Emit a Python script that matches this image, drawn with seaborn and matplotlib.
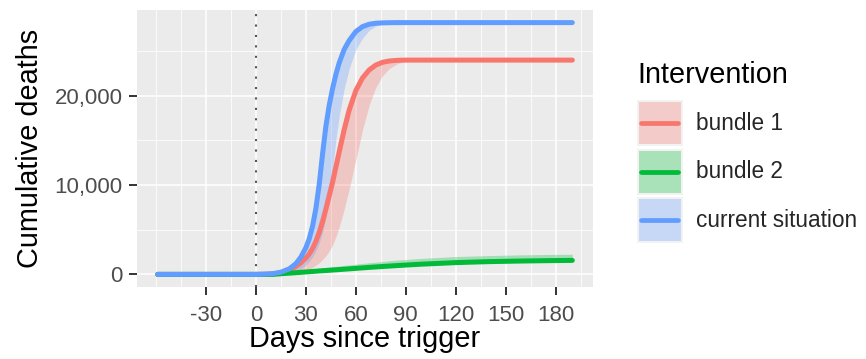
import matplotlib
matplotlib.use('Agg')
import matplotlib.pyplot as plt
from matplotlib.lines import Line2D
from matplotlib.patches import Rectangle
from matplotlib.legend_handler import HandlerBase
from matplotlib.ticker import FixedLocator, MultipleLocator, FuncFormatter
import seaborn as sns
import pandas as pd

# days since trigger (shared x grid for all series)
days = [-59, 0, 5, 10, 15, 20, 24, 27, 30, 32, 34, 36, 38, 40, 42, 44, 46, 48,
        50, 53, 56, 60, 64, 68, 72, 76, 80, 85, 90, 95, 100, 120, 140, 160, 180, 190]

# bundle 1
b1_mid = [0, 0, 15, 50, 180, 450, 900, 1300, 1850, 2300, 2900, 3700, 4700, 5900, 7300, 8800, 10300, 12000,
          13700, 16200, 18400, 20600, 22000, 22900, 23450, 23750, 23900, 23980, 24000, 24000, 24000, 24000, 24000, 24000, 24000, 24000]
b1_lo = [0, 0, 0, 0, 10, 40, 120, 230, 390, 560, 790, 1030, 1300, 1670, 2070, 2600, 3300, 4200,
         5300, 7300, 9550, 12850, 16200, 18950, 20950, 22250, 23040, 23600, 23860, 23965, 23995, 24000, 24000, 24000, 24000, 24000]
b1_hi = [0, 0, 30, 100, 280, 650, 1150, 1670, 2300, 2900, 3700, 4700, 5900, 7300, 8800, 10300, 12000, 13700,
         15370, 17700, 19500, 21300, 22450, 23170, 23600, 23830, 23940, 23995, 24000, 24000, 24000, 24000, 24000, 24000, 24000, 24000]

# bundle 2
b2_mid = [0, 0, 0, 0, 70, 140, 190, 230, 275, 300, 330, 355, 385, 410, 435, 460, 490, 515,
          540, 580, 620, 675, 730, 785, 835, 885, 930, 990, 1045, 1100, 1150, 1320, 1430, 1500, 1550, 1570]
b2_lo = [0, 0, 0, 0, 60, 125, 170, 210, 250, 275, 300, 325, 350, 375, 400, 420, 445, 470,
         495, 530, 565, 615, 665, 715, 760, 805, 850, 905, 955, 1005, 1050, 1200, 1300, 1370, 1410, 1430]
b2_hi = [0, 0, 0, 0, 110, 230, 330, 410, 490, 540, 590, 640, 690, 740, 790, 830, 870, 910,
         950, 1010, 1070, 1150, 1230, 1300, 1370, 1440, 1520, 1600, 1670, 1740, 1800, 2000, 2110, 2190, 2240, 2260]

# current situation
cur_mid = [0, 0, 20, 80, 250, 620, 1200, 1950, 3000, 4000, 5400, 7400, 10100, 13500, 16600, 18950, 20800, 22400,
           23700, 25200, 26200, 27200, 27750, 28020, 28130, 28170, 28190, 28200, 28200, 28200, 28200, 28200, 28200, 28200, 28200, 28200]
cur_lo = [0, 0, 0, 12, 55, 180, 380, 620, 1050, 1450, 1950, 2650, 3500, 4700, 6400, 8750, 11800, 15050,
          17750, 20800, 23050, 25200, 26450, 27340, 27820, 28050, 28140, 28180, 28195, 28200, 28200, 28200, 28200, 28200, 28200, 28200]
cur_hi = [0, 0, 30, 110, 320, 760, 1430, 2280, 3450, 4650, 6350, 8700, 11800, 15100, 17800, 19900, 21600, 23050,
          24200, 25550, 26450, 27350, 27850, 28070, 28150, 28180, 28195, 28200, 28200, 28200, 28200, 28200, 28200, 28200, 28200, 28200]

groups = ["bundle 1", "bundle 2", "current situation"]
palette = {"bundle 1": "#F8766D", "bundle 2": "#00BA38", "current situation": "#619CFF"}

frames = []
for name, mid, lo, hi in [("bundle 1", b1_mid, b1_lo, b1_hi),
                          ("bundle 2", b2_mid, b2_lo, b2_hi),
                          ("current situation", cur_mid, cur_lo, cur_hi)]:
    frames.append(pd.DataFrame({"day": days, "deaths": mid, "lo": lo, "hi": hi, "Intervention": name}))
df = pd.concat(frames, ignore_index=True)


class RibbonKey(HandlerBase):
    # ggplot-like key: grey95 box, translucent fill, line across the middle
    def create_artists(self, legend, orig_handle, xdescent, ydescent, width, height, fontsize, trans):
        c = orig_handle.get_color()
        x0, y0 = -xdescent, -ydescent
        bg = Rectangle((x0, y0), width, height, facecolor='#F2F2F2', edgecolor='none', transform=trans)
        fill = Rectangle((x0 + 1.5, y0 + 1.5), width - 3, height - 3, facecolor=c, alpha=0.3,
                         edgecolor='none', transform=trans)
        ln = Line2D([x0 + 3.2, x0 + width - 3], [y0 + height / 2] * 2, color=c, lw=3.4, transform=trans)
        return [bg, fill, ln]


sns.set_theme(style="darkgrid")
plt.rcParams['font.family'] = ['Liberation Sans', 'DejaVu Sans']
plt.rcParams['axes.unicode_minus'] = False

fig = plt.figure(figsize=(8.66, 3.59), dpi=100)
ax = fig.add_axes([0.1582, 0.2006, 0.5266, 0.7715])
ax.set_facecolor('#EBEBEB')

# ribbons first, then lines (ggplot layer order)
for name in groups:
    sub = df[df["Intervention"] == name]
    ax.fill_between(sub["day"], sub["lo"], sub["hi"], color=palette[name], alpha=0.3, lw=0, zorder=2)

ax.axvline(0, color='#555555', ls=(0, (1, 4)), lw=1.5, zorder=2.5)

sns.lineplot(data=df, x="day", y="deaths", hue="Intervention", hue_order=groups,
             palette=palette, lw=3.6, legend=False, ax=ax, zorder=3, estimator=None)

ax.set_xlim(-71.45, 202.45)
ax.set_ylim(-1410, 29610)
ax.xaxis.set_major_locator(FixedLocator([-30, 0, 30, 60, 90, 120, 150, 180]))
ax.xaxis.set_minor_locator(MultipleLocator(15))
ax.yaxis.set_major_locator(FixedLocator([0, 10000, 20000]))
ax.yaxis.set_minor_locator(MultipleLocator(5000))
ax.yaxis.set_major_formatter(FuncFormatter(lambda v, p: f"{v:,.0f}"))

ax.grid(which='major', color='white', lw=1.1)
ax.grid(which='minor', color='white', lw=0.55)
for s in ax.spines.values():
    s.set_visible(False)
ax.tick_params(which='major', length=5.5, width=1.4, color='#333333', labelsize=16,
               labelcolor='#4D4D4D', bottom=True, left=True)
ax.tick_params(axis='x', which='major', pad=7.3)
ax.tick_params(axis='y', which='major', pad=4.75)
ax.tick_params(which='minor', length=0)

ax.set_xlabel("Days since trigger", fontsize=20.8, color='black', va='baseline')
ax.set_ylabel("Cumulative deaths", fontsize=20.8, color='black', va='baseline')
ax.xaxis.set_label_coords(0.5, -0.2155)
ax.yaxis.set_label_coords(-0.2164, 0.5)

fig.text(0.7355, 1 - 83.3 / 359, "Intervention", fontsize=20.8, color='black', va='baseline', ha='left')
handles = [Line2D([0], [0], color=palette[name]) for name in groups]
leg = fig.legend(handles, groups, handler_map={Line2D: RibbonKey()},
                 loc='upper left', bbox_to_anchor=(0.7352, 0.7214),
                 frameon=False, fontsize=16.3, handlelength=2.03, handleheight=2.75,
                 labelspacing=0.115, handletextpad=0.6, borderpad=0, borderaxespad=0)

fig.savefig("out.png", dpi=100)
